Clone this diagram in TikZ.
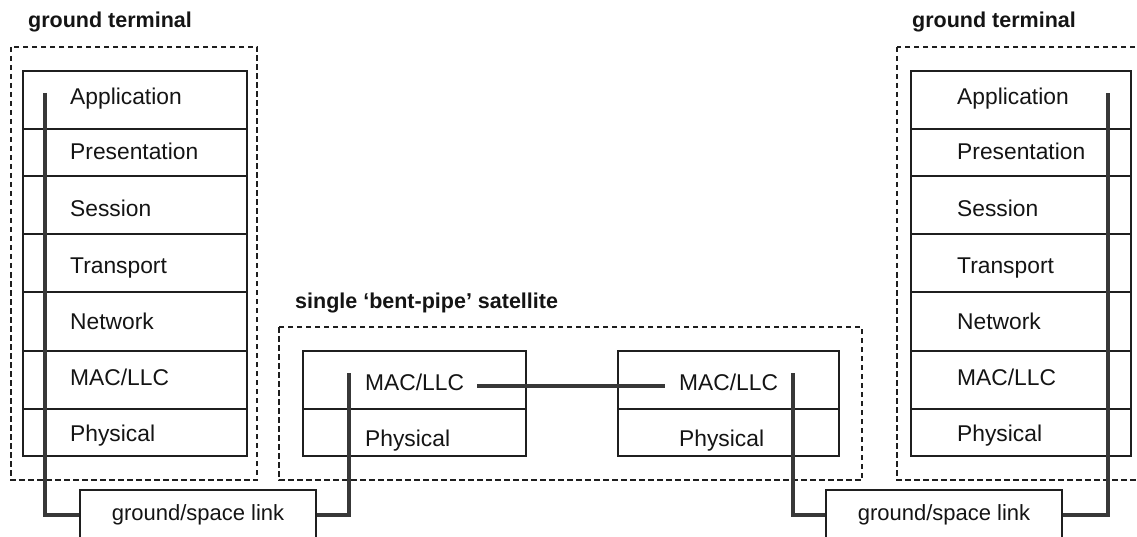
\documentclass[tikz,border=0pt]{standalone}
\usepackage{fontspec}
\setmainfont{Liberation Sans}
\newcommand\macllc{MAC/LLC}
\begin{document}
\begin{tikzpicture}[x=1pt,y=-1pt,
  layer/.style={draw=black!88, line width=1.8pt, rectangle, anchor=north west, inner sep=0pt},
  txt/.style={anchor=base west, inner sep=0pt, font=\fontsize{22.8}{27}\selectfont, text=black!92},
  grp/.style={draw=black!88, line width=1.8pt, dash pattern=on 5.5pt off 3.5pt},
  grplabel/.style={anchor=base west, inner sep=0pt, font=\fontsize{21.5}{26}\selectfont\bfseries, text=black!92},
  linkbox/.style={draw=black!88, line width=1.8pt, rectangle, minimum width=236pt, minimum height=50pt, inner sep=0pt, font=\fontsize{22}{26}\selectfont, text=black!92},
  pipe/.style={draw=black!78, line width=4.3pt, line cap=butt, line join=miter}
]
\useasboundingbox (0,0) rectangle (1137,537);

% group frames
\draw[grp] (11,47) rectangle (257,480);
\draw[grp] (897,47) rectangle (1150,480);
\draw[grp] (279,327) rectangle (862,480);
\node[grplabel] (glL) at (28,28) {ground terminal};
\node[grplabel] (glR) at (912,28) {ground terminal};
\node[grplabel] (glS) at (295,308) {single ‘bent-pipe’ satellite};

% terminal stacks
\foreach \n/\t/\h/\b/\s in {1/70/58/105/Application, 2/128/47/160/Presentation, 3/175/58/217/Session, 4/233/58/273/Transport, 5/291/59/329/Network, 6/350/58/385/\macllc, 7/408/47/441/Physical}{
  \node[layer, minimum width=224pt, minimum height=\h pt] (lt\n) at (22,\t) {};
  \node[txt] (ltt\n) at (70,\b) {\s};
  \node[layer, minimum width=220pt, minimum height=\h pt] (rt\n) at (910,\t) {};
  \node[txt] (rtt\n) at (957,\b) {\s};
}

% satellite stacks
\node[layer, minimum width=223pt, minimum height=58pt] (sl1) at (302,350) {};
\node[layer, minimum width=223pt, minimum height=47pt] (sl2) at (302,408) {};
\node[txt] (slt1) at (365,390) {MAC/LLC};
\node[txt] (slt2) at (365,446) {Physical};
\node[layer, minimum width=221pt, minimum height=58pt] (sr1) at (617,350) {};
\node[layer, minimum width=221pt, minimum height=47pt] (sr2) at (617,408) {};
\node[txt] (srt1) at (679,390) {MAC/LLC};
\node[txt] (srt2) at (679,446) {Physical};

% ground/space links
\node[linkbox] (link1) at (198,515) {ground/space link};
\node[linkbox] (link2) at (944,515) {ground/space link};

% pipe ends
\coordinate (pL) at (45,93);
\coordinate (pS1) at (349,373);
\coordinate (pS2) at (793,373);
\coordinate (pR) at (1108,93);
\coordinate (ma) at (477,386);
\coordinate (mb) at (665,386);

\draw[pipe] (pL) |- (link1.west);
\draw[pipe] (link1.east) -| (pS1);
\draw[pipe] (ma) -- (mb);
\draw[pipe] (pS2) |- (link2.west);
\draw[pipe] (link2.east) -| (pR);
\end{tikzpicture}
\end{document}
